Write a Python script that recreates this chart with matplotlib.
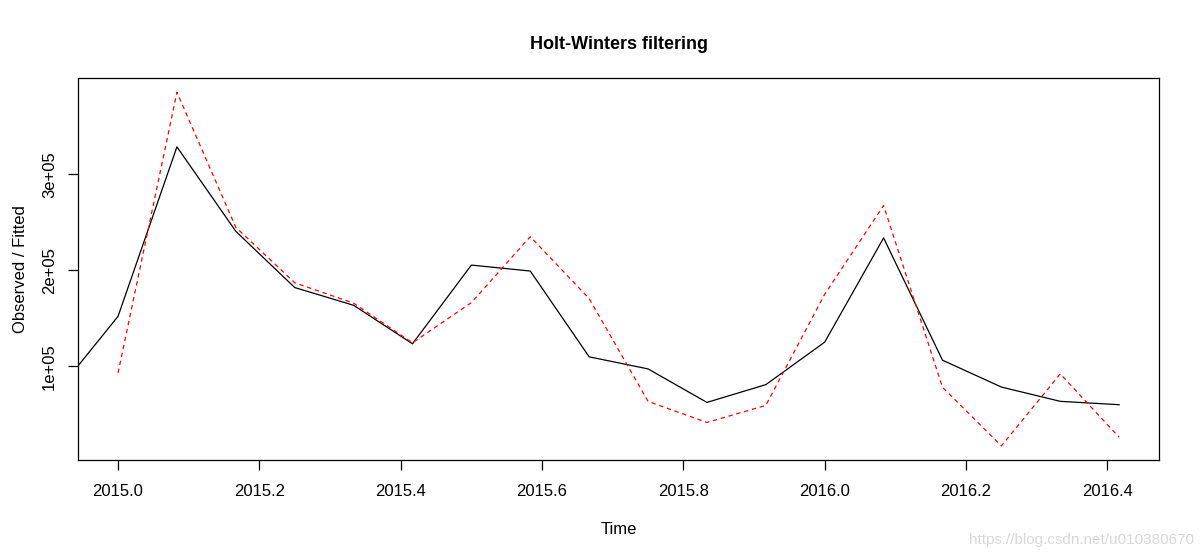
import numpy as np
import matplotlib
matplotlib.use("Agg")
from matplotlib import pyplot as plt
from matplotlib.ticker import FixedLocator

plt.rcParams['font.family'] = ['Liberation Sans', 'DejaVu Sans']

# observed series starts one month before the fitted one (Dec 2014)
obs_time = 2014 + 11/12 + np.arange(19) / 12.0
observed = [76000, 152000, 328600, 240600, 182000, 163500, 123400, 205400, 199200,
            109800, 97200, 62300, 80800, 125100, 233700, 106300, 78300, 63400, 59900]

fit_time = 2015 + np.arange(18) / 12.0
fitted = [93000, 385500, 244800, 187000, 165700, 124400, 166300, 235000, 170500,
          63400, 41400, 59200, 175000, 267500, 78000, 17000, 92000, 26000]

x_ticks = [2015.0, 2015.2, 2015.4, 2015.6, 2015.8, 2016.0, 2016.2, 2016.4]
y_ticks = [100000, 200000, 300000]
y_tick_labels = ['1e+05', '2e+05', '3e+05']

fig = plt.figure(figsize=(12, 5.58), dpi=100)
ax = fig.add_axes([0.065, 0.1756, 0.901, 0.6844])

ax.plot(obs_time, observed, color='black', lw=0.9)
ax.plot(fit_time, fitted, color='red', lw=0.9, dashes=(3.5, 3))

# R style axis limits: range of fitted time, all values, 4% padding
xr = fit_time[-1] - fit_time[0]
ax.set_xlim(fit_time[0] - 0.04 * xr, fit_time[-1] + 0.04 * xr)
allv = np.concatenate([observed, fitted])
yr = allv.max() - allv.min()
ax.set_ylim(allv.min() - 0.04 * yr, allv.max() + 0.04 * yr)

ax.xaxis.set_major_locator(FixedLocator(x_ticks))
ax.set_xticklabels(['%.1f' % t for t in x_ticks])
ax.set_yticks(y_ticks)
ax.set_yticklabels(y_tick_labels, rotation=90, va='center')
ax.tick_params(direction='out', length=7, width=0.9, labelsize=12, pad=10, color='black')
ax.tick_params(axis='y', pad=8)
for s in ax.spines.values():
    s.set_linewidth(0.9)

ax.set_title('Holt-Winters filtering', fontsize=13, fontweight='bold', pad=21)
ax.set_xlabel('Time', fontsize=12, labelpad=17)
ax.set_ylabel('Observed / Fitted', fontsize=12, labelpad=10)

fig.text(0.995, 0.02, 'https://blog.csdn.net/u010380670', ha='right', va='bottom',
         fontsize=11, color='#d8d8d8')

fig.savefig('out.png', dpi=100)
